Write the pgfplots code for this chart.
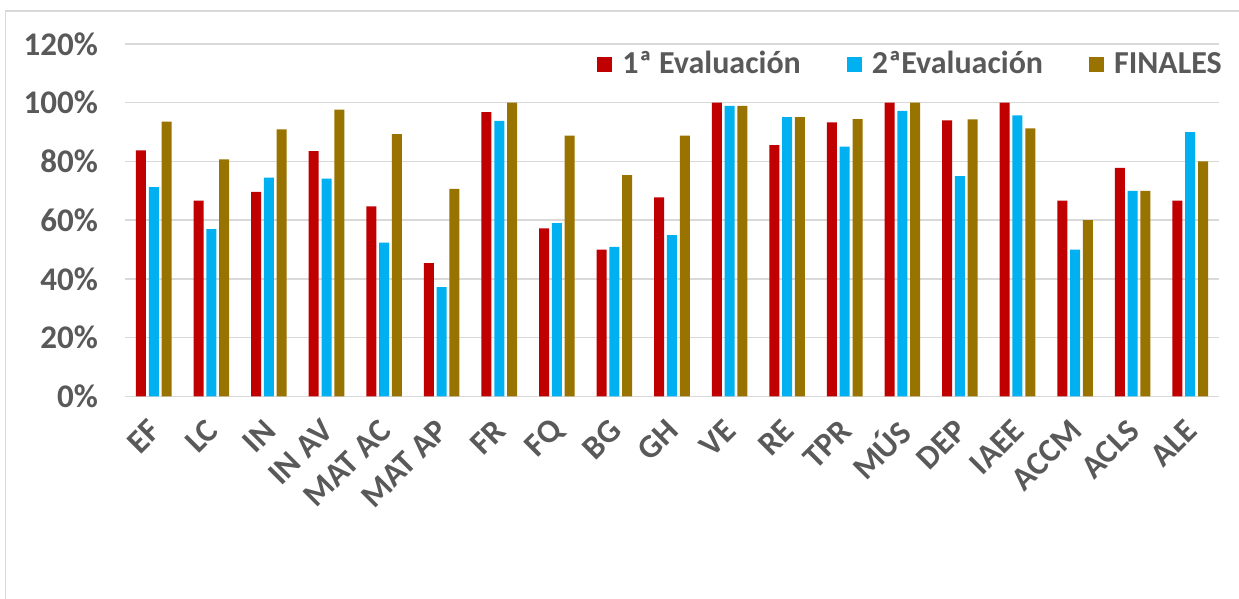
\documentclass[border=0pt]{standalone}
\usepackage{fontspec}
\setmainfont{Carlito}
\usepackage{pgfplots}
\usepackage{pgfplotstable}
\pgfplotsset{compat=1.18}
\definecolor{cred}{HTML}{C00000}
\definecolor{cblue}{HTML}{00B0F0}
\definecolor{cgold}{HTML}{997300}
\definecolor{txt}{HTML}{595959}
\definecolor{grd}{HTML}{D9D9D9}
\pgfplotstableread{
x  a      b      c
0  0.838  0.713  0.936
1  0.667  0.570  0.807
2  0.697  0.745  0.909
3  0.835  0.742  0.977
4  0.647  0.524  0.893
5  0.454  0.372  0.707
6  0.968  0.938  1.000
7  0.572  0.590  0.888
8  0.500  0.509  0.754
9  0.678  0.549  0.888
10 1.000  0.989  0.989
11 0.856  0.951  0.951
12 0.933  0.851  0.944
13 1.000  0.972  1.000
14 0.940  0.750  0.943
15 1.000  0.957  0.913
16 0.667  0.500  0.600
17 0.778  0.700  0.700
18 0.667  0.900  0.800
}\datatable
\begin{document}
\begin{tikzpicture}
\path[use as bounding box] (-62.5pt,-101.25pt) rectangle (557pt,198.25pt);
\draw[grd, line width=0.75pt] (-59.75pt,-101.5pt) -- (-59.75pt,192.75pt) -- (558pt,192.75pt);
\begin{axis}[
  at={(0,0)}, anchor=south west,
  scale only axis,
  width=547pt, height=176.25pt,
  ybar=1.4pt, bar width=5pt,
  xmin=-0.5, xmax=18.5,
  ymin=0, ymax=1.2,
  axis line style={draw=none},
  major tick length=0pt,
  ymajorgrids,
  grid style={grd, line width=0.75pt},
  ytick={0,0.2,0.4,0.6,0.8,1.0,1.2},
  yticklabels={0\%,20\%,40\%,60\%,80\%,100\%,120\%},
  xtick=data,
  xticklabels={EF,LC,IN,IN AV,MAT AC,MAT AP,FR,FQ,BG,GH,VE,RE,TPR,MÚS,DEP,IAEE,ACCM,ACLS,ALE},
  ticklabel style={font=\fontsize{16.5pt}{19pt}\selectfont\bfseries, text=txt},
  yticklabel style={anchor=east, xshift=-10pt},
  xticklabel style={xshift=3pt, yshift=-12pt, rotate=45, anchor=east},
  legend columns=3,
  legend style={at={(rel axis cs:1.012,0.943)}, anchor=east, draw=none, fill=none,
    font=\fontsize{16pt}{19pt}\selectfont\bfseries, text=txt,
    /tikz/every odd column/.append style={column sep=3pt},
    /tikz/every even column/.append style={column sep=21pt}},
  legend image code/.code={\fill (0pt,-3.75pt) rectangle (7.5pt,3.75pt);},
]
\addplot[fill=cred, draw=none] table[x=x, y=a] {\datatable};
\addplot[fill=cblue, draw=none] table[x=x, y=b] {\datatable};
\addplot[fill=cgold, draw=none] table[x=x, y=c] {\datatable};
\legend{1ª Evaluación,2ªEvaluación,FINALES}
\end{axis}
\end{tikzpicture}
\end{document}
